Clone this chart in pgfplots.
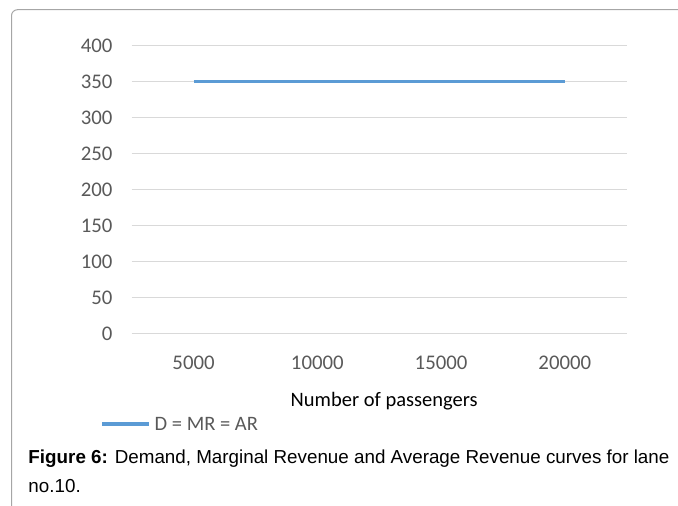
\documentclass[border=0pt]{standalone}
\usepackage{fontspec}
\setmainfont{Carlito}
\newfontfamily\capfont{Liberation Sans}
\usepackage{pgfplots}
\pgfplotsset{compat=1.18}
\definecolor{lineblue}{HTML}{5B9BD5}
\definecolor{gridgray}{HTML}{D9D9D9}
\definecolor{ticktext}{HTML}{595959}
\definecolor{framegray}{HTML}{A6A6A6}
\begin{document}
\begin{tikzpicture}[x=1bp,y=1bp]
\useasboundingbox (0,0) rectangle (678,506);
% outer frame, open to the right and bottom
\draw[framegray, line width=1bp] (11.5,0) -- (11.5,490.3) arc[start angle=180,end angle=90,radius=6] -- (678,496.3);
\begin{axis}[
  at={(131.7bp,172bp)}, anchor=south west,
  scale only axis, width=495bp, height=288.3bp,
  xmin=-0.5, xmax=3.5, ymin=0, ymax=400,
  xtick={0,1,2,3}, xticklabels={5000,10000,15000,20000},
  ytick={0,50,...,400},
  axis line style={draw=none}, major tick length=0pt,
  ymajorgrids, grid style={gridgray, line width=1bp},
  /pgf/number format/assume math mode=true,
  ticklabel style={font=\fontsize{20.8bp}{24bp}\selectfont, text=ticktext, inner sep=0pt},
  yticklabel style={anchor=east, xshift=-19bp},
  xticklabel style={anchor=north, yshift=-22bp},
  xlabel={Number of passengers},
  xlabel style={font=\fontsize{20.5bp}{24bp}\selectfont, at={(axis description cs:0.5,0)}, anchor=base, inner sep=0pt, xshift=5bp, yshift=-73bp},
  legend style={at={(axis description cs:0,0)}, anchor=west, xshift=-31.5bp, yshift=-90.3bp,
    draw=none, fill=none, inner sep=0pt, column sep=4bp,
    font=\fontsize{20.5bp}{24bp}\selectfont, text=ticktext, nodes={inner sep=0pt}},
  legend image code/.code={\draw[#1, line width=3.3bp] (0bp,0.4bp) -- (47bp,0.4bp);},
]
\addplot[lineblue, line width=3.3bp] coordinates {(0,350) (1,350) (2,350) (3,350)};
\addlegendentry{D = MR = AR}
\end{axis}
\node[anchor=base west, inner sep=0pt, font=\capfont\fontsize{18.8bp}{22bp}\selectfont] at (28.3,42)
  {\textbf{Figure 6:} Demand, Marginal Revenue and Average Revenue curves for lane};
\node[anchor=base west, inner sep=0pt, font=\capfont\fontsize{18.8bp}{22bp}\selectfont] at (28.3,13) {no.10.};
\end{tikzpicture}
\end{document}
